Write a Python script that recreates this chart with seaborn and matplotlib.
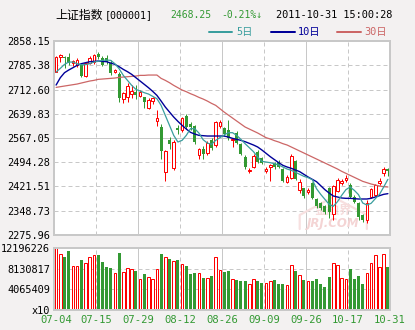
import numpy as np
import matplotlib
matplotlib.use("Agg")
import matplotlib.pyplot as plt
from matplotlib.lines import Line2D
import seaborn as sns

# ---------------- data ----------------
dates = ["07-04", "07-05", "07-06", "07-07", "07-08", "07-11", "07-12", "07-13", "07-14", "07-15",
         "07-18", "07-19", "07-20", "07-21", "07-22", "07-25", "07-26", "07-27", "07-28", "07-29",
         "08-01", "08-02", "08-03", "08-04", "08-05", "08-08", "08-09", "08-10", "08-11", "08-12",
         "08-15", "08-16", "08-17", "08-18", "08-19", "08-22", "08-23", "08-24", "08-25", "08-26",
         "08-29", "08-30", "08-31", "09-01", "09-02", "09-05", "09-06", "09-07", "09-08", "09-09",
         "09-13", "09-14", "09-15", "09-16", "09-19", "09-20", "09-21", "09-22", "09-23", "09-26",
         "09-27", "09-28", "09-29", "09-30", "10-10", "10-11", "10-12", "10-13", "10-14", "10-17",
         "10-18", "10-19", "10-20", "10-21", "10-24", "10-25", "10-26", "10-27", "10-28", "10-31"]

open_ = [2766, 2809, 2811, 2809, 2791, 2786, 2786, 2753, 2793, 2796,
         2819, 2806, 2806, 2793, 2766, 2759, 2683, 2689, 2698, 2706,
         2693, 2689, 2656, 2678, 2619, 2601, 2466, 2561, 2478, 2597,
         2591, 2633, 2608, 2603, 2516, 2535, 2521, 2561, 2546, 2604,
         2596, 2591, 2560, 2583, 2549, 2511, 2467, 2481, 2526, 2506,
         2468, 2479, 2489, 2496, 2475, 2436, 2448, 2499, 2411, 2416,
         2406, 2431, 2383, 2371, 2362, 2416, 2338, 2409, 2431, 2440,
         2426, 2391, 2371, 2336, 2321, 2391, 2396, 2431, 2461, 2473]
high = [2812, 2818, 2813, 2821, 2801, 2806, 2790, 2795, 2812, 2820,
        2826, 2812, 2816, 2800, 2773, 2764, 2706, 2731, 2725, 2725,
        2712, 2691, 2686, 2690, 2650, 2610, 2532, 2570, 2560, 2605,
        2630, 2640, 2615, 2606, 2538, 2542, 2558, 2566, 2617, 2620,
        2600, 2620, 2567, 2588, 2552, 2515, 2476, 2518, 2530, 2509,
        2480, 2490, 2495, 2500, 2478, 2455, 2520, 2502, 2443, 2418,
        2418, 2435, 2386, 2374, 2366, 2420, 2426, 2446, 2444, 2455,
        2431, 2395, 2374, 2340, 2380, 2418, 2430, 2447, 2481, 2476]
low = [2764, 2796, 2777, 2785, 2784, 2781, 2749, 2751, 2788, 2788,
       2805, 2782, 2790, 2755, 2762, 2676, 2673, 2676, 2686, 2684,
       2690, 2658, 2653, 2670, 2604, 2505, 2437, 2535, 2472, 2580,
       2585, 2595, 2590, 2550, 2505, 2505, 2515, 2530, 2540, 2598,
       2572, 2560, 2540, 2550, 2515, 2475, 2462, 2477, 2492, 2488,
       2462, 2439, 2475, 2476, 2434, 2431, 2444, 2440, 2403, 2388,
       2400, 2385, 2358, 2352, 2340, 2326, 2321, 2405, 2426, 2434,
       2386, 2372, 2321, 2316, 2311, 2386, 2393, 2427, 2452, 2454]
close = [2809, 2815, 2806, 2791, 2797, 2801, 2753, 2791, 2806, 2816,
         2809, 2786, 2796, 2763, 2770, 2686, 2701, 2723, 2709, 2696,
         2706, 2676, 2681, 2686, 2628, 2527, 2527, 2548, 2555, 2590,
         2626, 2601, 2600, 2556, 2533, 2520, 2553, 2536, 2614, 2614,
         2578, 2566, 2564, 2553, 2519, 2479, 2471, 2514, 2496, 2493,
         2473, 2486, 2480, 2481, 2438, 2451, 2514, 2444, 2436, 2393,
         2411, 2388, 2363, 2357, 2345, 2346, 2423, 2441, 2438, 2446,
         2391, 2376, 2331, 2321, 2373, 2413, 2426, 2438, 2473, 2468]

ma5 = [2765, 2776, 2788, 2795, 2795, 2790, 2787, 2787, 2790, 2795,
       2797, 2800, 2801, 2800, 2790, 2775, 2755, 2740, 2725, 2713,
       2708, 2703, 2699, 2692, 2685, 2665, 2635, 2605, 2575, 2555,
       2560, 2575, 2595, 2595, 2582, 2562, 2552, 2548, 2560, 2568,
       2576, 2583, 2583, 2575, 2563, 2550, 2538, 2526, 2510, 2497,
       2495, 2493, 2490, 2486, 2480, 2474, 2470, 2464, 2458, 2452,
       2448, 2442, 2415, 2398, 2383, 2368, 2362, 2376, 2395, 2412,
       2420, 2410, 2397, 2372, 2366, 2371, 2385, 2398, 2420, 2443]
ma10 = [2726, 2748, 2763, 2771, 2778, 2785, 2790, 2793, 2796, 2797,
        2798, 2797, 2796, 2792, 2788, 2781, 2773, 2766, 2758, 2748,
        2738, 2728, 2718, 2707, 2695, 2678, 2660, 2645, 2630, 2617,
        2605, 2594, 2584, 2579, 2575, 2574, 2573, 2573, 2573, 2573,
        2573, 2570, 2566, 2563, 2560, 2556, 2551, 2546, 2540, 2531,
        2521, 2511, 2502, 2493, 2485, 2480, 2476, 2471, 2466, 2458,
        2450, 2443, 2436, 2424, 2412, 2402, 2393, 2390, 2387, 2386,
        2386, 2385, 2384, 2384, 2384, 2386, 2390, 2394, 2398, 2400]
ma30 = [2719, 2721, 2723, 2725, 2727, 2729, 2732, 2735, 2738, 2740,
        2743, 2744, 2745, 2746, 2747, 2749, 2750, 2751, 2752, 2753,
        2755, 2755, 2756, 2756, 2756, 2746, 2740, 2733, 2725, 2718,
        2711, 2706, 2700, 2695, 2689, 2684, 2678, 2671, 2665, 2655,
        2645, 2636, 2627, 2618, 2609, 2600, 2594, 2588, 2582, 2575,
        2568, 2564, 2559, 2555, 2550, 2546, 2540, 2534, 2528, 2522,
        2516, 2510, 2504, 2498, 2492, 2486, 2480, 2474, 2467, 2461,
        2455, 2449, 2443, 2437, 2433, 2429, 2426, 2423, 2421, 2420]

volume = [12190000, 11000000, 10420000, 11600000, 8620000, 8620000, 9820000, 9220000, 10420000, 10810000,
          10810000, 9420000, 8430000, 8230000, 7230000, 11210000, 7440000, 8230000, 8040000, 7630000,
          6050000, 7040000, 6440000, 6050000, 8040000, 11000000, 10390000, 10060000, 9560000, 9820000,
          9030000, 8620000, 7040000, 7230000, 7180000, 6240000, 6240000, 6650000, 10350000, 7830000,
          7440000, 7630000, 5990000, 5850000, 5650000, 5650000, 5060000, 5990000, 5650000, 5260000,
          5260000, 5650000, 5850000, 5060000, 5060000, 4790000, 8760000, 7630000, 6780000, 5850000,
          5590000, 5650000, 6050000, 5060000, 4460000, 6440000, 9220000, 8760000, 6180000, 5990000,
          8040000, 6050000, 6650000, 5060000, 7180000, 9220000, 10810000, 8370000, 11000000, 8430000]

price_ticks = [2275.96, 2348.73, 2421.51, 2494.28, 2567.05, 2639.83, 2712.60, 2785.38, 2858.15]
price_labels = ["2275.96", "2348.73", "2421.51", "2494.28", "2567.05", "2639.83", "2712.60", "2785.38", "2858.15"]
vol_ticks = [0, 4065409, 8130817, 12196226]
vol_labels = ["x10", "4065409", "8130817", "12196226"]

# ---------------- style ----------------
W, H = 415, 330
BG = "#f3f1f1"
GRID = "#c8c8c8"
RED = "#ff0000"
GREEN = "#339933"
C5, C10, C30 = "#3a9e9e", "#000099", "#cc6666"
PX = 72 / 100  # one pixel in points

sns.set_theme(style="white")
plt.rcParams["font.family"] = ["DejaVu Sans Mono", "Noto Sans CJK SC"]

fig = plt.figure(figsize=(W / 100, H / 100), dpi=100, facecolor=BG)


def box(x0, y0, x1, y1):
    return [x0 / W, 1 - y1 / H, (x1 - x0) / W, (y1 - y0) / H]


ax = fig.add_axes(box(54, 41, 390, 235))
axv = fig.add_axes(box(54, 248, 390, 309.5), sharex=ax)

n = len(close)
x = np.arange(n)
o, h, l, c = map(np.asarray, (open_, high, low, close))
up = c >= o
dn = ~up
col = np.where(up, RED, GREEN)

for a in (ax, axv):
    a.set_facecolor("white")
    for s in a.spines.values():
        s.set_color(GRID)
        s.set_linewidth(2 * PX)
    a.tick_params(length=0, labelsize=7.4, pad=3)
    # vertical grid: every 10 sessions, alternating dashed / solid
    for k in range(1, 8):
        a.axvline(10 * k - 0.5, color=GRID, lw=PX,
                  ls=(0, (4, 3)) if k % 2 else "-", zorder=0.5)

ax.set_xlim(-0.5, n - 0.5)
ax.set_ylim(price_ticks[0], price_ticks[-1])
ax.set_yticks(price_ticks)
ax.set_yticklabels(price_labels)
for i, t in enumerate(price_ticks[1:-1], start=1):
    ax.axhline(t, color=GRID, lw=PX, ls="-" if i == 4 else (0, (4, 3)), zorder=0.5)

# faint site mark in the lower right of the price panel
roof_x = [58.0, 58.0, 66.0, 74.0, 74.0]
roof_y = [2294, 2336, 2390, 2336, 2294]
ax.plot(roof_x, roof_y, color="#f7e0e0", lw=2.2 * PX, zorder=1)
ax.text(66, 2310, "JRJ.COM", ha="center", va="center",
        fontsize=8.5, fontweight="bold", fontstyle="italic", color="#f4d4d4", zorder=1,
        family=["DejaVu Sans"])
ax.text(66, 2350, "金融界", ha="center", va="center", fontsize=9, fontweight="bold",
        color="#f6dcdc", zorder=1, family=["Noto Sans CJK SC"])

# candlesticks
ax.vlines(x, l, h, colors=col, lw=PX, zorder=2)
body_lo = np.minimum(o, c)
body_hi = np.maximum(o, c)
ax.bar(x[dn], (body_hi - body_lo)[dn], bottom=body_lo[dn], width=0.76,
       color=GREEN, linewidth=0, zorder=3)
ax.bar(x[up], np.maximum(body_hi - body_lo, 1.5)[up], bottom=body_lo[up], width=0.6,
       facecolor="white", edgecolor=RED, linewidth=PX, zorder=3)

# moving averages
sns.lineplot(x=x, y=ma30, ax=ax, color=C30, linewidth=0.9, zorder=4)
sns.lineplot(x=x, y=ma10, ax=ax, color=C10, linewidth=1.0, zorder=4)
sns.lineplot(x=x, y=ma5, ax=ax, color=C5, linewidth=0.9, zorder=4)
ax.set_ylabel("")
ax.tick_params(axis="x", labelbottom=False)

# volume
axv.set_ylim(0, vol_ticks[-1])
axv.set_yticks(vol_ticks)
axv.set_yticklabels(vol_labels)
for t in vol_ticks[1:-1]:
    axv.axhline(t, color=GRID, lw=PX, ls=(0, (4, 3)), zorder=0.5)
vol = np.asarray(volume)
axv.bar(x[dn], vol[dn], width=0.76, color=GREEN, linewidth=0, zorder=2)
axv.bar(x[up], vol[up], width=0.6, facecolor="white", edgecolor=RED, linewidth=PX, zorder=2)

xt = [0] + [10 * k - 0.5 for k in range(1, 9)]
axv.set_xticks(xt)
axv.set_xticklabels([dates[0]] + [dates[10 * k - 1] for k in range(1, 9)])
axv.tick_params(axis="x", colors=GREEN, labelsize=7.6, pad=4)
axv.tick_params(axis="y", colors="black")
for lab in ax.get_yticklabels() + axv.get_yticklabels():
    lab.set_color("black")


# header
def ft(xp, yp, s, **kw):
    fig.text(xp / W, 1 - yp / H, s, va="center", **kw)


ft(55, 15, "上证指数", fontsize=8.6, family=["Noto Sans CJK SC"], color="black")
ft(105, 15, "[000001]", fontsize=7.2, color="black")
ft(170, 15, "2468.25", fontsize=7.0, color=GREEN)
ft(221, 15, "-0.21%↓", fontsize=7.0, color=GREEN)
ft(276, 15, "2011-10-31 15:00:28", fontsize=7.4, color="black")

for x0, x1, tx, s, cc in [(209, 232, 236, "5日", C5), (271, 295, 298, "10日", C10),
                          (337, 361, 364, "30日", C30)]:
    fig.add_artist(Line2D([x0 / W, x1 / W], [1 - 32 / H] * 2, color=cc, lw=2 * PX))
    ft(tx, 32, s, fontsize=7.4, color=cc)

fig.savefig("out.png", dpi=100, facecolor=BG)
